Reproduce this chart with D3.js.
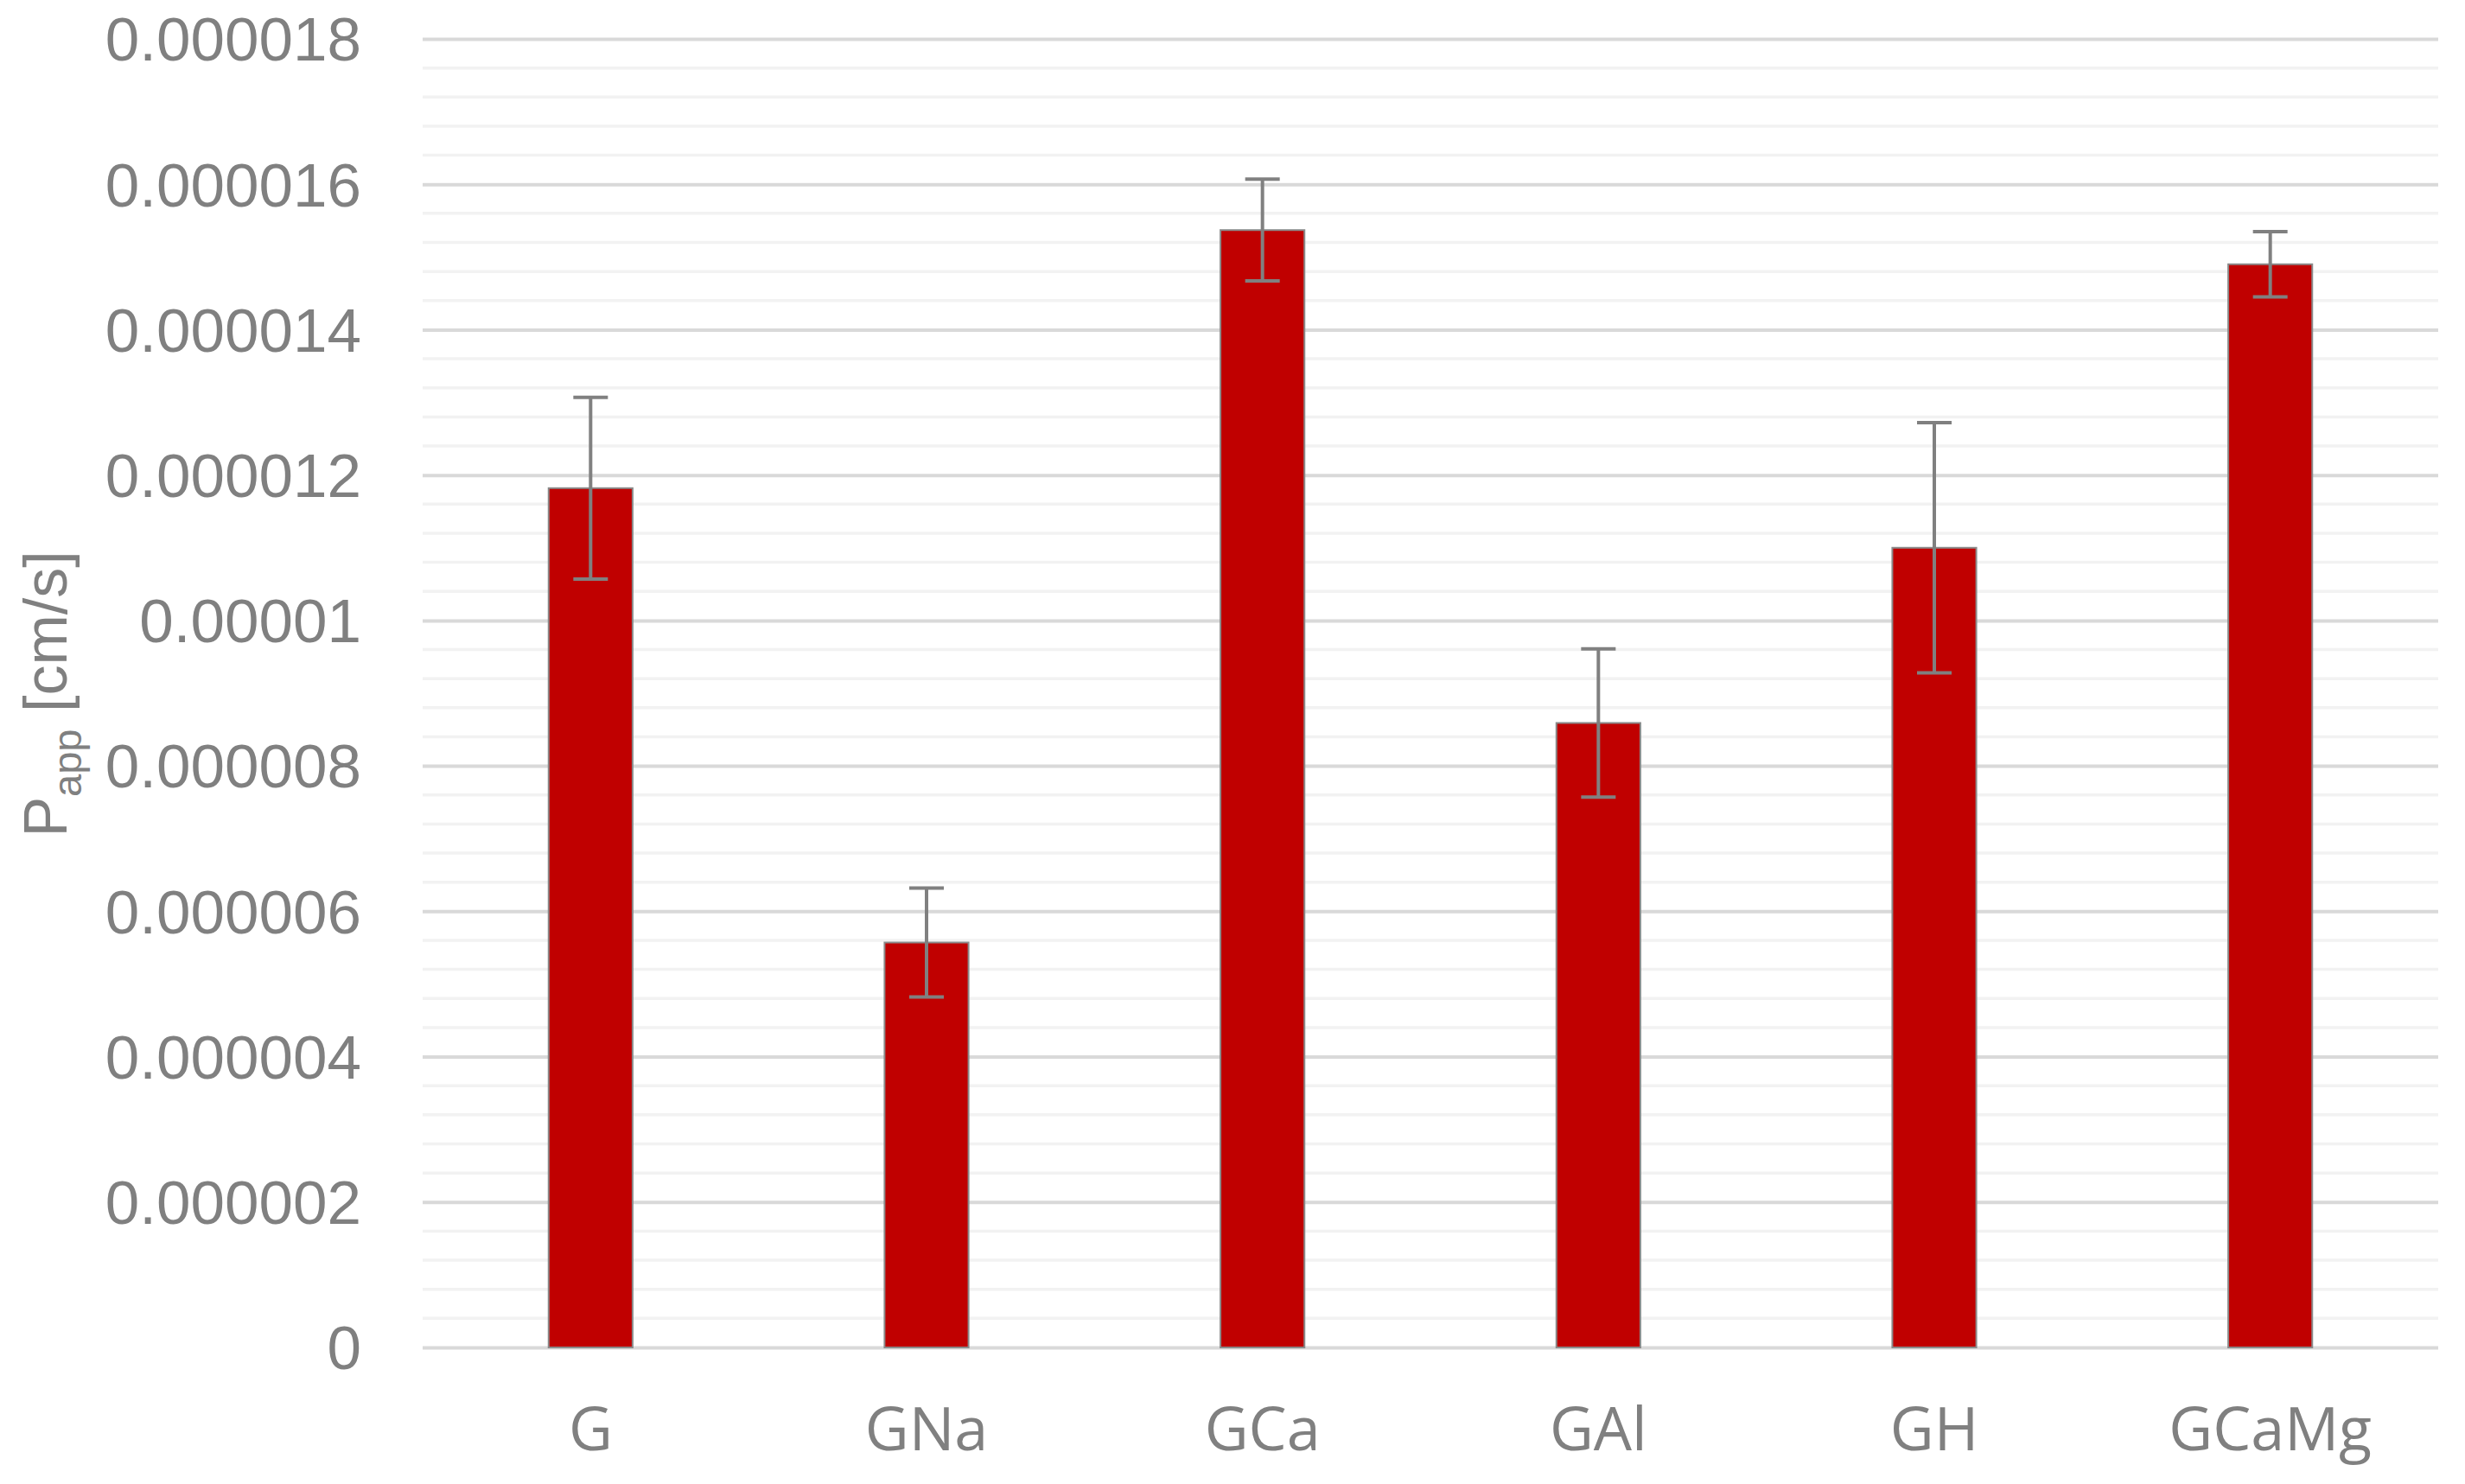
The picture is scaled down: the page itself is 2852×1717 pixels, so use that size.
<!DOCTYPE html>
<html>
<head>
<meta charset="utf-8">
<script src="https://cdn.jsdelivr.net/npm/d3@7"></script>
<style>
  body { margin: 0; background: #ffffff; }
  svg { display: block; }
</style>
</head>
<body>
<svg id="chart"></svg>
<script>
// Data
var categories = ["G", "GNa", "GCa", "GAl", "GH", "GCaMg"];
var values = [11.82e-6, 5.57e-6, 15.37e-6, 8.59e-6, 11.0e-6, 14.9e-6];
var errors = [1.25e-6, 0.75e-6, 0.70e-6, 1.02e-6, 1.72e-6, 0.45e-6];
var yTicks = [0, 2e-6, 4e-6, 6e-6, 8e-6, 10e-6, 12e-6, 14e-6, 16e-6, 18e-6];
var yTickLabels = ["0", "0.000002", "0.000004", "0.000006", "0.000008", "0.00001",
                   "0.000012", "0.000014", "0.000016", "0.000018"];

// Layout
var width = 2852, height = 1717;
var plotLeft = 489, plotRight = 2821, plotTop = 45, plotBottom = 1559;

var svg = d3.select("#chart")
    .attr("width", width)
    .attr("height", height);

// Scaling:
var xScale = d3.scaleBand()
    .domain(categories)
    .range([plotLeft, plotRight])
    .paddingInner(0.75)
    .paddingOuter(0.375);

var yScale = d3.scaleLinear()
    .domain([0, 18e-6])
    .range([plotBottom, plotTop]);

// Minor gridlines (every 0.4e-6)
var minor = d3.range(0, 46).map(function (i) { return i * 0.4e-6; })
    .filter(function (d, i) { return i % 5 != 0; });

svg.append("g")
    .selectAll("line")
    .data(minor)
    .enter()
    .append("line")
    .attr("x1", plotLeft).attr("x2", plotRight)
    .attr("y1", function (d) { return yScale(d); })
    .attr("y2", function (d) { return yScale(d); })
    .attr("stroke", "#f2f2f2")
    .attr("stroke-width", 3.5);

// Major gridlines + y tick labels through the axis
var yAxis = svg.append("g")
    .attr("transform", "translate(" + plotLeft + ",0)")
    .call(d3.axisLeft(yScale)
        .tickValues(yTicks)
        .tickSize(-(plotRight - plotLeft))
        .tickPadding(71)
        .tickFormat(function (d, i) { return yTickLabels[i]; }));

yAxis.select(".domain").remove();
yAxis.selectAll(".tick line")
    .attr("stroke", "#d9d9d9")
    .attr("stroke-width", 4);
yAxis.selectAll(".tick text")
    .attr("fill", "#808080")
    .attr("font-family", "Liberation Sans, Arial, sans-serif")
    .attr("font-size", 71)
    .attr("dy", "0.35em");

// Bars
svg.append("g")
    .selectAll("rect")
    .data(values)
    .enter()
    .append("rect")
    .attr("x", function (d, i) { return xScale(categories[i]); })
    .attr("y", function (d) { return yScale(d); })
    .attr("width", xScale.bandwidth())
    .attr("height", function (d) { return yScale(0) - yScale(d); })
    .attr("fill", "#c00000")
    .attr("stroke", "#8a8a8a")
    .attr("stroke-width", 2);

// Error bars
var capHalf = 20;
var err = svg.append("g")
    .attr("stroke", "#808080")
    .attr("stroke-width", 4);

values.forEach(function (v, i) {
    var cx = xScale(categories[i]) + xScale.bandwidth() / 2;
    var hi = yScale(v + errors[i]);
    var lo = yScale(v - errors[i]);
    err.append("line").attr("x1", cx).attr("x2", cx).attr("y1", hi).attr("y2", lo);
    err.append("line").attr("x1", cx - capHalf).attr("x2", cx + capHalf).attr("y1", hi).attr("y2", hi);
    err.append("line").attr("x1", cx - capHalf).attr("x2", cx + capHalf).attr("y1", lo).attr("y2", lo);
});

// X labels
var xAxis = svg.append("g")
    .attr("transform", "translate(0," + plotBottom + ")")
    .call(d3.axisBottom(xScale).tickSize(0).tickPadding(94));
xAxis.select(".domain").remove();
xAxis.selectAll(".tick text")
    .attr("fill", "#808080")
    .attr("font-family", "Open Sans, Noto Sans, sans-serif")
    .attr("font-size", 70)
    .attr("dy", "0.35em");

// Y axis title
var title = svg.append("text")
    .attr("transform", "translate(77," + 803 + ") rotate(-90)")
    .attr("text-anchor", "middle")
    .attr("fill", "#808080")
    .attr("font-family", "Liberation Sans, Arial, sans-serif")
    .attr("font-size", 70);
title.append("tspan").text("P");
title.append("tspan").attr("font-size", 47).attr("dy", 17).text("app");
title.append("tspan").attr("dy", -17).text(" [cm/s]");
</script>
</body>
</html>
